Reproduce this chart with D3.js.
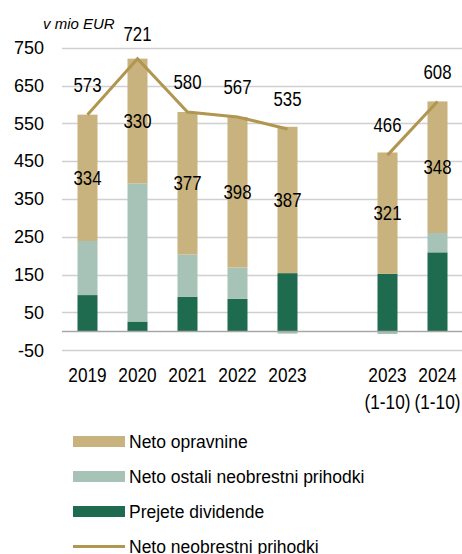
<!DOCTYPE html>
<html>
<head>
<meta charset="utf-8">
<script src="https://cdn.jsdelivr.net/npm/d3@7"></script>
<style>
  body { margin: 0; background: #fff; }
  text { font-family: "Liberation Sans", Arial, sans-serif; fill: #000; }
</style>
</head>
<body>
<div id="chart"></div>
<script>
// categories ("" is the empty slot between the two groups)
var categories = ["2019", "2020", "2021", "2022", "2023", "", "2023\n(1-10)", "2024\n(1-10)"];
var opravnine = [334, 330, 377, 398, 387, null, 321, 348];
var ostali = [143, 365, 112, 83, -6, null, -7, 51];
var dividende = [96, 26, 91, 86, 154, null, 152, 209];
var skupaj = [573, 721, 580, 567, 535, null, 466, 608];
var yTicks = [-50, 50, 150, 250, 350, 450, 550, 650, 750];

var colors = {
  opravnine: "#c8b27e",
  ostali: "#a7c3b8",
  dividende: "#1f6b50",
  line: "#b09650"
};

var width = 462, height = 554;
var narrow = 0.82; // horizontal squeeze to mimic a narrow face

var svg = d3.select("#chart")
  .append("svg")
  .attr("width", width)
  .attr("height", height);

var yScale = d3.scaleLinear()
  .domain([-50, 750])
  .range([350.3, 47.7]);

var xScale = d3.scaleBand()
  .domain(categories)
  .range([62.5, 462.5])
  .paddingInner(0.6)
  .paddingOuter(0.3);

function cx(c) { return xScale(c) + xScale.bandwidth() / 2; }
function squeeze(x, y) { return "translate(" + x + "," + y + ") scale(" + narrow + ",1)"; }

// gridlines
svg.append("g")
  .selectAll("line")
  .data(yTicks)
  .enter()
  .append("line")
  .attr("x1", 62)
  .attr("x2", 462)
  .attr("y1", function(d) { return Math.round(yScale(d)) + 0.5; })
  .attr("y2", function(d) { return Math.round(yScale(d)) + 0.5; })
  .attr("stroke", "#d0d0d0")
  .attr("stroke-width", 1.5);

// y axis labels
svg.append("g")
  .selectAll("text")
  .data(yTicks)
  .enter()
  .append("text")
  .attr("x", 44)
  .attr("y", function(d) { return yScale(d); })
  .attr("dy", "0.35em")
  .attr("text-anchor", "end")
  .style("font-size", "18px")
  .text(function(d) { return d; });

svg.append("text")
  .attr("x", 43)
  .attr("y", 29)
  .style("font-size", "15px")
  .style("font-style", "italic")
  .text("v mio EUR");

// stacked bars
var rows = categories.map(function(c, i) {
  return { cat: c, dividende: dividende[i], ostali: ostali[i], opravnine: opravnine[i] };
}).filter(function(d) { return d.opravnine != null; });

var stack = d3.stack()
  .keys(["dividende", "ostali", "opravnine"])
  .offset(d3.stackOffsetDiverging);

var series = stack(rows);

svg.append("g")
  .selectAll("g")
  .data(series)
  .enter()
  .append("g")
  .attr("fill", function(d) { return colors[d.key]; })
  .selectAll("rect")
  .data(function(d) { return d; })
  .enter()
  .append("rect")
  .attr("x", function(d) { return xScale(d.data.cat); })
  .attr("width", xScale.bandwidth())
  .attr("y", function(d) { return yScale(d[1]); })
  .attr("height", function(d) { return yScale(d[0]) - yScale(d[1]); });

// zero line
svg.append("line")
  .attr("x1", 62)
  .attr("x2", 462)
  .attr("y1", Math.round(yScale(0)) + 0.5)
  .attr("y2", Math.round(yScale(0)) + 0.5)
  .attr("stroke", "#a6a6a6")
  .attr("stroke-width", 1.5);

// total line, broken at the empty slot
var linePts = categories.map(function(c, i) { return { cat: c, v: skupaj[i] }; });
var line = d3.line()
  .defined(function(d) { return d.v != null; })
  .x(function(d) { return cx(d.cat); })
  .y(function(d) { return yScale(d.v); });

svg.append("path")
  .datum(linePts)
  .attr("d", line)
  .attr("fill", "none")
  .attr("stroke", colors.line)
  .attr("stroke-width", 3);

// labels for opravnine (middle of segment)
svg.append("g")
  .selectAll("text")
  .data(series[2])
  .enter()
  .append("text")
  .attr("transform", function(d) { return squeeze(cx(d.data.cat), yScale((d[0] + d[1]) / 2)); })
  .attr("dy", "0.35em")
  .attr("text-anchor", "middle")
  .style("font-size", "20.5px")
  .text(function(d) { return d.data.opravnine; });

// total labels above the line
svg.append("g")
  .selectAll("text")
  .data(linePts.filter(function(d) { return d.v != null; }))
  .enter()
  .append("text")
  .attr("transform", function(d) { return squeeze(cx(d.cat), Math.max(yScale(d.v) - 30, 34)); })
  .attr("dy", "0.35em")
  .attr("text-anchor", "middle")
  .style("font-size", "20.5px")
  .text(function(d) { return d.v; });

// x axis labels
var xl = svg.append("g")
  .selectAll("text")
  .data(categories.filter(function(c) { return c != ""; }))
  .enter()
  .append("text")
  .attr("transform", function(d) { return squeeze(cx(d), 375); })
  .attr("text-anchor", "middle")
  .style("font-size", "21px");

xl.each(function(d) {
  var t = d3.select(this);
  d.split("\n").forEach(function(p, j) {
    t.append("tspan")
      .attr("x", 0)
      .attr("y", j * 26.5)
      .attr("dy", "0.35em")
      .text(p);
  });
});

// legend
var legendItems = [
  { name: "Neto opravnine", color: colors.opravnine, type: "rect" },
  { name: "Neto ostali neobrestni prihodki", color: colors.ostali, type: "rect" },
  { name: "Prejete dividende", color: colors.dividende, type: "rect" },
  { name: "Neto neobrestni prihodki", color: colors.line, type: "line" }
];

var legend = svg.append("g")
  .selectAll("g")
  .data(legendItems)
  .enter()
  .append("g")
  .attr("transform", function(d, i) { return "translate(73," + (441.5 + i * 35) + ")"; });

legend.each(function(d) {
  var g = d3.select(this);
  if (d.type == "rect") {
    g.append("rect")
      .attr("x", 0)
      .attr("y", -5.5)
      .attr("width", 52)
      .attr("height", 11)
      .attr("fill", d.color);
  } else {
    g.append("line")
      .attr("x1", 0)
      .attr("x2", 52)
      .attr("y1", 0)
      .attr("y2", 0)
      .attr("stroke", d.color)
      .attr("stroke-width", 3);
  }
  g.append("text")
    .attr("x", 56)
    .attr("y", 0)
    .attr("dy", "0.35em")
    .style("font-size", "17.5px")
    .text(d.name);
});
</script>
</body>
</html>
